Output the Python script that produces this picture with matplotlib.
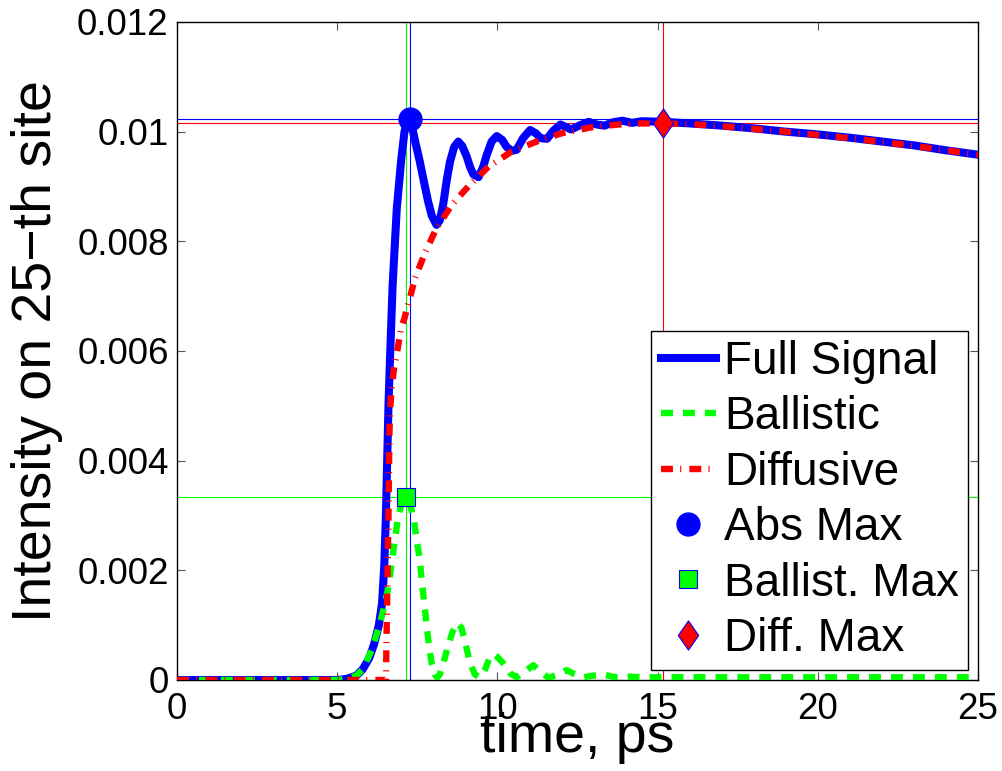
import matplotlib
matplotlib.use('Agg')
import matplotlib.pyplot as plt
from matplotlib.path import Path

plt.rcParams['font.family'] = ['Liberation Sans', 'DejaVu Sans']
plt.rcParams['lines.scale_dashes'] = False

# full signal
t_full = [0, 5.0, 5.3, 5.6, 5.8, 6.0, 6.15, 6.3, 6.4, 6.47, 6.52, 6.56, 6.6, 6.65,
          6.73, 6.86, 7.0, 7.1, 7.18, 7.25, 7.35, 7.45, 7.58, 7.72, 7.84, 7.95, 8.1,
          8.2, 8.31, 8.42, 8.52, 8.65, 8.78, 8.9, 9.04, 9.15, 9.25, 9.41, 9.55, 9.67,
          9.82, 9.98, 10.15, 10.29, 10.45, 10.6, 10.8, 11.02, 11.2, 11.35, 11.55,
          11.75, 11.97, 12.12, 12.3, 12.55, 12.85, 13.1, 13.35, 13.6, 13.9, 14.2,
          14.5, 15.2, 16, 17, 18, 19, 20, 21, 22, 23, 24, 25]
full = [0, 0, 0.00002, 0.00008, 0.0002, 0.0004, 0.00065, 0.001, 0.0014, 0.0021,
        0.003, 0.004, 0.005, 0.0059, 0.0072, 0.0086, 0.0095, 0.0100, 0.01018,
        0.01023, 0.01005, 0.00978, 0.00945, 0.00905, 0.00872, 0.00847, 0.0083,
        0.00838, 0.00868, 0.00912, 0.00945, 0.00972, 0.00982, 0.00974, 0.00955,
        0.00935, 0.00922, 0.00917, 0.00935, 0.00958, 0.00982, 0.00992, 0.00985,
        0.00972, 0.00965, 0.00967, 0.00988, 0.01003, 0.00997, 0.00988, 0.00987,
        0.01002, 0.01013, 0.01009, 0.01004, 0.01011, 0.01018, 0.01013, 0.01011,
        0.01017, 0.0102, 0.01016, 0.01019, 0.01018, 0.01015, 0.01011, 0.01006,
        0.01, 0.00995, 0.00989, 0.00982, 0.00975, 0.00966, 0.00958]

# ballistic part
t_ball = [0, 5.0, 5.3, 5.6, 5.8, 6.08, 6.34, 6.49, 6.6, 6.7, 6.8, 6.89, 7.0, 7.15,
          7.28, 7.38, 7.48, 7.58, 7.64, 7.72, 7.79, 7.87, 7.95, 8.05, 8.12, 8.2,
          8.31, 8.47, 8.6, 8.75, 8.88, 8.99, 9.15, 9.3, 9.46, 9.62, 9.77, 9.88,
          10.0, 10.19, 10.4, 10.6, 10.85, 11.12, 11.35, 11.59, 11.9, 12.16, 12.4,
          12.68, 13.0, 13.3, 13.7, 14.1, 14.6, 15.2, 17, 20, 25]
ball = [0, 0, 0.00002, 0.00008, 0.0002, 0.00055, 0.00104, 0.0014, 0.0017, 0.00213,
        0.00255, 0.00293, 0.0032, 0.00334, 0.00318, 0.00298, 0.00255, 0.00219,
        0.0018, 0.0014, 0.001, 0.0006, 0.0003, 0.0001, 0.00004, 0.0001, 0.0003,
        0.00064, 0.00088, 0.00104, 0.00095, 0.0007, 0.0003, 0.0001, 0.00005,
        0.0002, 0.00042, 0.00047, 0.00042, 0.0003, 0.00012, 0.00005, 0.00015,
        0.00027, 0.00015, 0.00004, 0.0001, 0.00018, 0.00011, 0.00005, 0.00008,
        0.0001, 0.00005, 0.00006, 0.00005, 0.00005, 0.00005, 0.00005, 0.00005]

# diffusive part
t_diff = [0, 6.52, 6.56, 6.6, 6.63, 6.65, 6.7, 6.78, 6.86, 6.99, 7.1, 7.22, 7.43,
          7.74, 8.1, 8.57, 9.09, 9.72, 10.45, 11.23, 12.0, 12.94, 13.77, 14.5,
          15.18, 16, 17, 18, 19, 20, 21, 22, 23, 24, 25]
diff = [0, 0, 0.0015, 0.003, 0.0045, 0.0049, 0.00535, 0.0057, 0.00595, 0.0064,
        0.0066, 0.00686, 0.00733, 0.00779, 0.00824, 0.00866, 0.009, 0.00936,
        0.00964, 0.00982, 0.00997, 0.01008, 0.01013, 0.01015, 0.01015, 0.01014,
        0.0101, 0.01005, 0.01, 0.00994, 0.00988, 0.00981, 0.00974, 0.00966,
        0.00958]

# maxima
abs_max = (7.26, 0.010226)
ball_max = (7.15, 0.00334)
diff_max = (15.18, 0.01015)

xticks = [0, 5, 10, 15, 20, 25]
yticks = [0, 0.002, 0.004, 0.006, 0.008, 0.01, 0.012]
ytick_labels = ['0', '0.002', '0.004', '0.006', '0.008', '0.01', '0.012']

fig = plt.figure(figsize=(10.03, 7.71), dpi=100)
ax = fig.add_axes([0.17647, 0.11803, 0.79860, 0.85344])

# guide lines through the maxima
ax.axhline(abs_max[1], color='#0000ff', lw=0.8, zorder=1)
ax.axvline(abs_max[0], color='#0000ff', lw=0.8, zorder=1)
ax.axhline(ball_max[1], color='#00ff00', lw=0.8, zorder=1)
ax.axvline(ball_max[0], color='#00ff00', lw=0.8, zorder=1)
ax.axhline(diff_max[1], color='#ff0000', lw=0.8, zorder=1)
ax.axvline(diff_max[0], color='#ff0000', lw=0.8, zorder=1)

ax.plot(t_full, full, color='#0000ff', lw=5.8, label='Full Signal', zorder=2)
ax.plot(t_ball, ball, color='#00ff00', lw=4.6, ls=(0, (8.6, 7.2)),
        label='Ballistic', zorder=3)
ax.plot(t_diff, diff, color='#ff0000', lw=4.6, ls=(0, (8.6, 5.2, 0.8, 5.8)),
        label='Diffusive', zorder=4)

diamond = Path([(0, 1), (0.7, 0), (0, -1), (-0.7, 0), (0, 1)],
               [Path.MOVETO, Path.LINETO, Path.LINETO, Path.LINETO, Path.CLOSEPOLY])
ax.plot([abs_max[0]], [abs_max[1]], 'o', color='#0000ff', ms=16.5,
        mec='#0000ff', label='Abs Max', zorder=5)
ax.plot([ball_max[0]], [ball_max[1]], 's', mfc='#00ff00', mec='#0000ff',
        mew=0.8, ms=13, label='Ballist. Max', zorder=5)
ax.plot([diff_max[0]], [diff_max[1]], marker=diamond, ls='none', mfc='#ff0000',
        mec='#0000ff', mew=0.8, ms=21, label='Diff. Max', zorder=5)

ax.set_xlim(0, 25)
ax.set_ylim(0, 0.012)
ax.set_xticks(xticks)
ax.set_xticklabels([str(v) for v in xticks])
ax.set_yticks(yticks)
ax.set_yticklabels(ytick_labels)
ax.tick_params(direction='in', length=6, width=0.8, color='#555555',
               top=True, right=True, labelsize=26.5)
ax.tick_params(axis='x', pad=9)
ax.tick_params(axis='y', pad=6)
for s in ax.spines.values():
    s.set_linewidth(1.0)
    s.set_color('black')

ax.set_xlabel('time, ps', fontsize=40, labelpad=-11)
ax.set_ylabel('Intensity on 25\u2212th site', fontsize=40, labelpad=10)

leg = ax.legend(loc='lower right', bbox_to_anchor=(0.9875, 0.015),
                borderaxespad=0, fontsize=33, fancybox=False, framealpha=1,
                edgecolor='black', handlelength=1.2, handletextpad=0.18,
                borderpad=0.2, labelspacing=0.25, numpoints=1)
leg.get_frame().set_linewidth(1.0)

fig.savefig('out.png', dpi=100)
